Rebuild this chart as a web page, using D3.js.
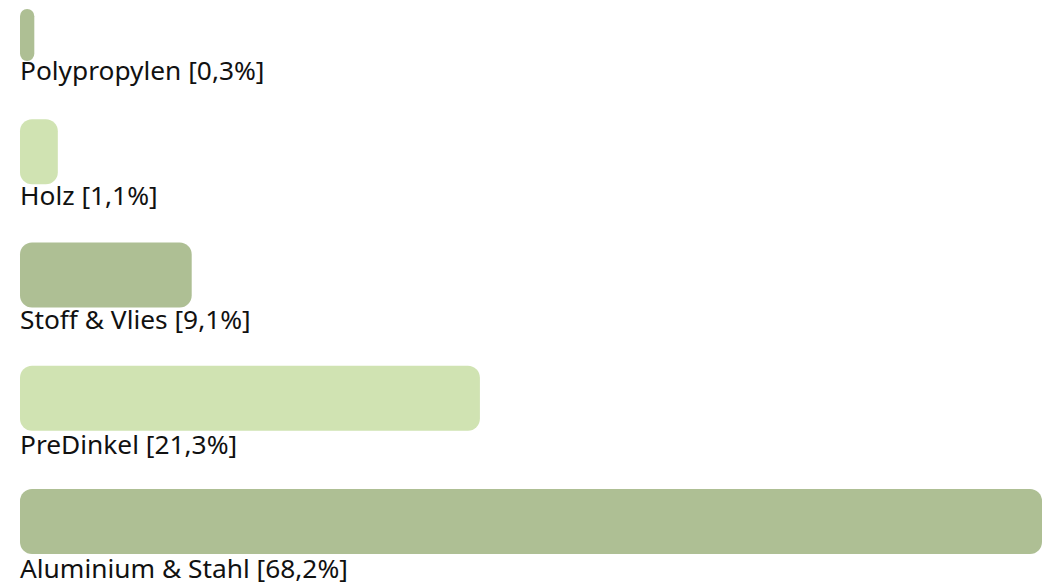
<!DOCTYPE html>
<html>
<head>
<meta charset="utf-8">
<script src="https://cdn.jsdelivr.net/npm/d3@7"></script>
<style>
  html, body { margin: 0; padding: 0; background: #ffffff; }
  svg { display: block; }
</style>
</head>
<body>
<svg id="chart" width="1042" height="587"></svg>
<script>
// Categories (top to bottom)
const categories = ["Polypropylen", "Holz", "Stoff & Vlies", "PreDinkel", "Aluminium & Stahl"];
// Share values shown in the labels (%)
const shares = [0.3, 1.1, 9.1, 21.3, 68.2];
// Drawn bar length, relative to the longest bar (= 100)
const barLength = [1.4, 3.7, 16.8, 45.0, 100];
// Alternating bar fills
const barColors = ["#aebf94", "#d0e3b2", "#aebf94", "#d0e3b2", "#aebf94"];

const W = 1042, H = 587;
const svg = d3.select("#chart");

const x = d3.scaleLinear().domain([0, 100]).range([20, 1042]);
const yLabel = d3.scalePoint().domain(categories).range([80, 578]);
const yBarBottom = d3.scalePoint().domain(categories).range([61, 554]);
const barH = 65, topLimit = 9;

const fmt = v => v.toFixed(1).replace(".", ",");

const rows = categories.map((c, i) => ({
  cat: c, share: shares[i], len: barLength[i], color: barColors[i]
}));

const g = svg.selectAll("g.row").data(rows).join("g").attr("class", "row");

const barTop = d => Math.max(topLimit, yBarBottom(d.cat) - barH);

g.append("rect")
  .attr("x", x(0))
  .attr("y", barTop)
  .attr("width", d => x(d.len) - x(0))
  .attr("height", d => yBarBottom(d.cat) - barTop(d))
  .attr("rx", d => Math.min(12, (x(d.len) - x(0)) / 2))
  .attr("ry", d => Math.min(12, (x(d.len) - x(0)) / 2))
  .attr("fill", d => d.color);

g.append("text")
  .attr("x", x(0))
  .attr("y", d => yLabel(d.cat))
  .attr("font-family", "'Noto Sans', sans-serif")
  .attr("font-size", 26.3)
  .attr("fill", "#111111")
  .text(d => `${d.cat} [${fmt(d.share)}%]`);
</script>
</body>
</html>
